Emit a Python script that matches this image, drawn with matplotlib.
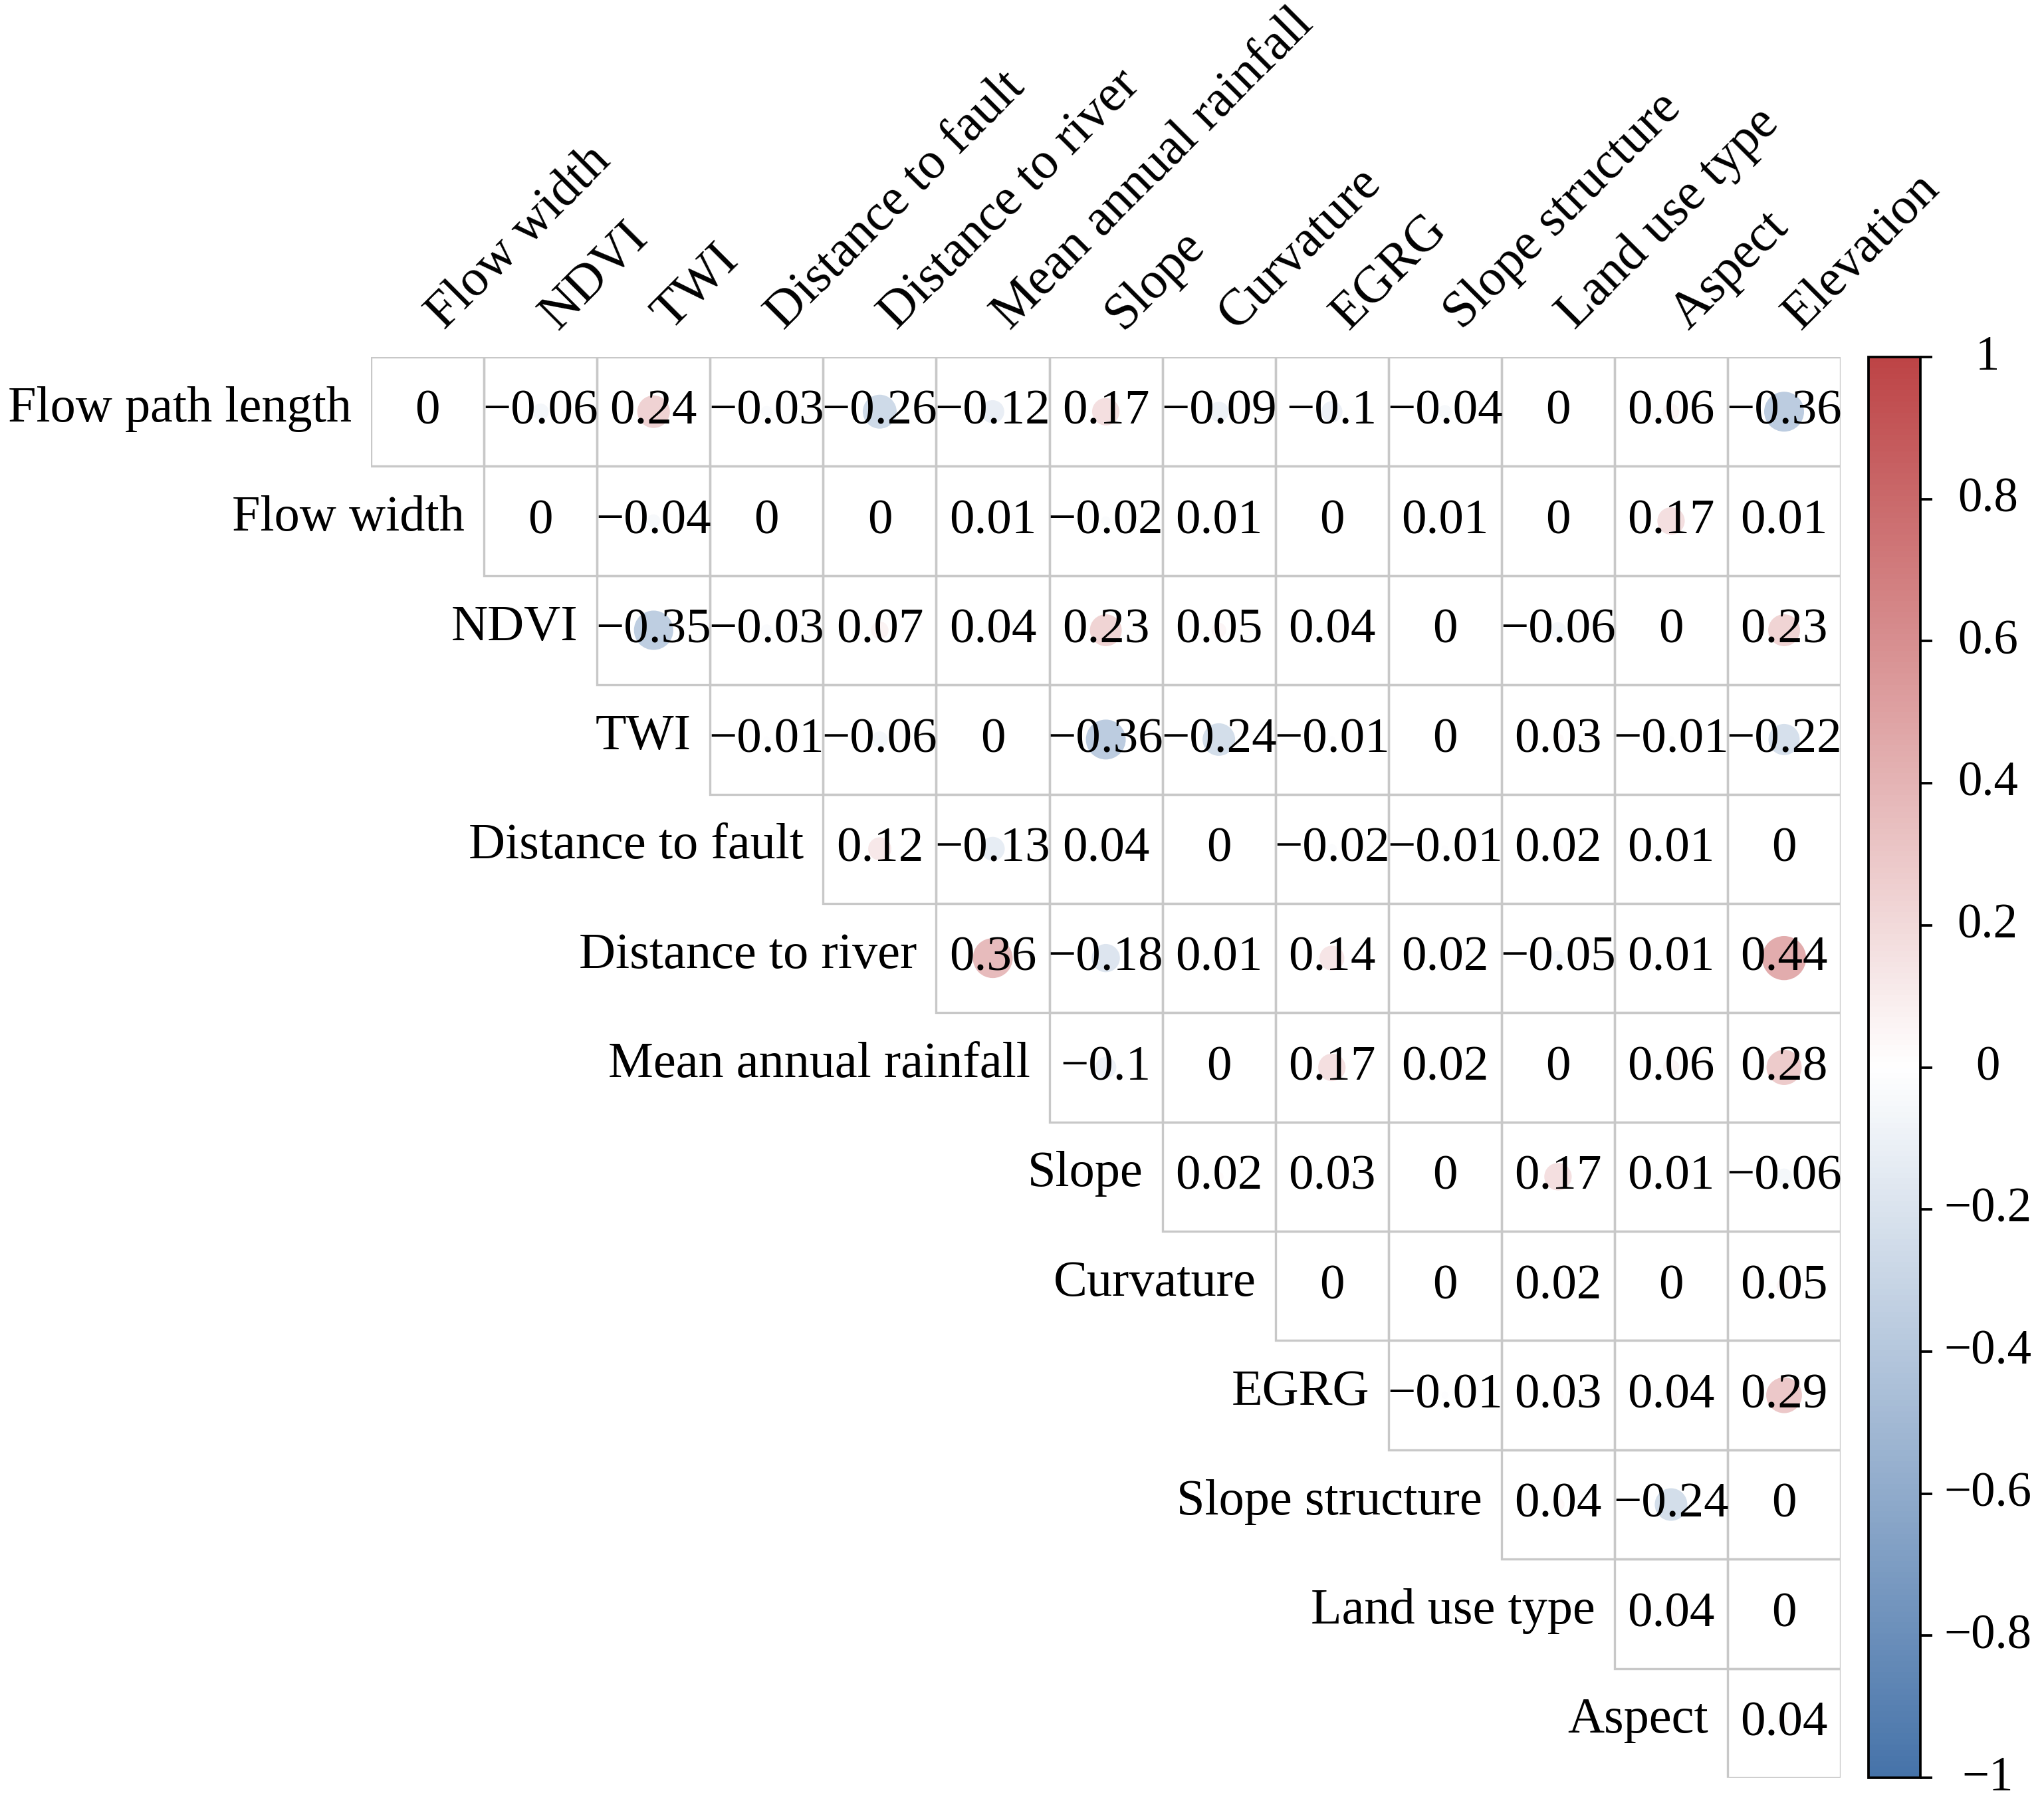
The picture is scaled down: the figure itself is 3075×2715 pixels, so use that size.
import numpy as np
import matplotlib.pyplot as plt
from matplotlib.colors import LinearSegmentedColormap
from matplotlib.patches import Rectangle

plt.rcParams['font.family'] = ['Liberation Serif', 'DejaVu Serif']

row_labels = ["Flow path length", "Flow width", "NDVI", "TWI", "Distance to fault",
              "Distance to river", "Mean annual rainfall", "Slope", "Curvature", "EGRG",
              "Slope structure", "Land use type", "Aspect"]
col_labels = ["Flow width", "NDVI", "TWI", "Distance to fault", "Distance to river",
              "Mean annual rainfall", "Slope", "Curvature", "EGRG", "Slope structure",
              "Land use type", "Aspect", "Elevation"]

# upper triangle, one list per row (starting at the diagonal column)
flow_path_length = [0, -0.06, 0.24, -0.03, -0.26, -0.12, 0.17, -0.09, -0.1, -0.04, 0, 0.06, -0.36]
flow_width = [0, -0.04, 0, 0, 0.01, -0.02, 0.01, 0, 0.01, 0, 0.17, 0.01]
ndvi = [-0.35, -0.03, 0.07, 0.04, 0.23, 0.05, 0.04, 0, -0.06, 0, 0.23]
twi = [-0.01, -0.06, 0, -0.36, -0.24, -0.01, 0, 0.03, -0.01, -0.22]
dist_fault = [0.12, -0.13, 0.04, 0, -0.02, -0.01, 0.02, 0.01, 0]
dist_river = [0.36, -0.18, 0.01, 0.14, 0.02, -0.05, 0.01, 0.44]
rainfall = [-0.1, 0, 0.17, 0.02, 0, 0.06, 0.28]
slope = [0.02, 0.03, 0, 0.17, 0.01, -0.06]
curvature = [0, 0, 0.02, 0, 0.05]
egrg = [-0.01, 0.03, 0.04, 0.29]
slope_structure = [0.04, -0.24, 0]
land_use = [0.04, 0]
aspect = [0.04]

rows = [flow_path_length, flow_width, ndvi, twi, dist_fault, dist_river, rainfall,
        slope, curvature, egrg, slope_structure, land_use, aspect]

cbar_ticks = [1, 0.8, 0.6, 0.4, 0.2, 0, -0.2, -0.4, -0.6, -0.8, -1]


def fmt(v):
    return f'{v:g}'.replace('-', '\u2212')


fig = plt.figure(figsize=(10.25, 9.0533), dpi=300)
ax = fig.add_axes([0.1815, 0.0151, 0.719, 0.7868])
cax = fig.add_axes([0.9141, 0.0151, 0.0254, 0.7868])

cmap = LinearSegmentedColormap.from_list('rb', ['#4673A9', '#FFFFFF', '#BD4446'])

n = len(col_labels)
xs, ys, vs = [], [], []
for i, vals in enumerate(rows):
    for k, v in enumerate(vals):
        j = i + k
        ax.add_patch(Rectangle((j, i), 1, 1, fill=False, ec='#C8C8C8', lw=0.8, zorder=1))
        xs.append(j + 0.5)
        ys.append(i + 0.5)
        vs.append(v)
        ax.text(j + 0.5, i + 0.5, fmt(v), ha='center', va='center', fontsize=18, zorder=3)
    ax.text(i - 0.17, i + 0.47, row_labels[i], ha='right', va='center', fontsize=18.3)

vs = np.array(vs)
sc = ax.scatter(xs, ys, s=576 * np.abs(vs), c=vs, cmap=cmap, vmin=-1, vmax=1,
                linewidths=0, zorder=2)

for j, lab in enumerate(col_labels):
    ax.text(j + 0.65, -0.25, lab, rotation=45, rotation_mode='anchor',
            ha='left', va='baseline', fontsize=18.7)

ax.set_xlim(0, n)
ax.set_ylim(n, 0)
ax.axis('off')

cb = fig.colorbar(sc, cax=cax, ticks=cbar_ticks)
cb.set_ticklabels([fmt(t) for t in cbar_ticks])
cb.outline.set_linewidth(0.9)
cb.outline.set_edgecolor('black')
cax.tick_params(length=4.3, width=0.9, labelsize=17.5, pad=20)
for lbl in cax.get_yticklabels():
    lbl.set_ha('center')
    lbl.set_va('center')

fig.savefig('out.png', dpi=300)
